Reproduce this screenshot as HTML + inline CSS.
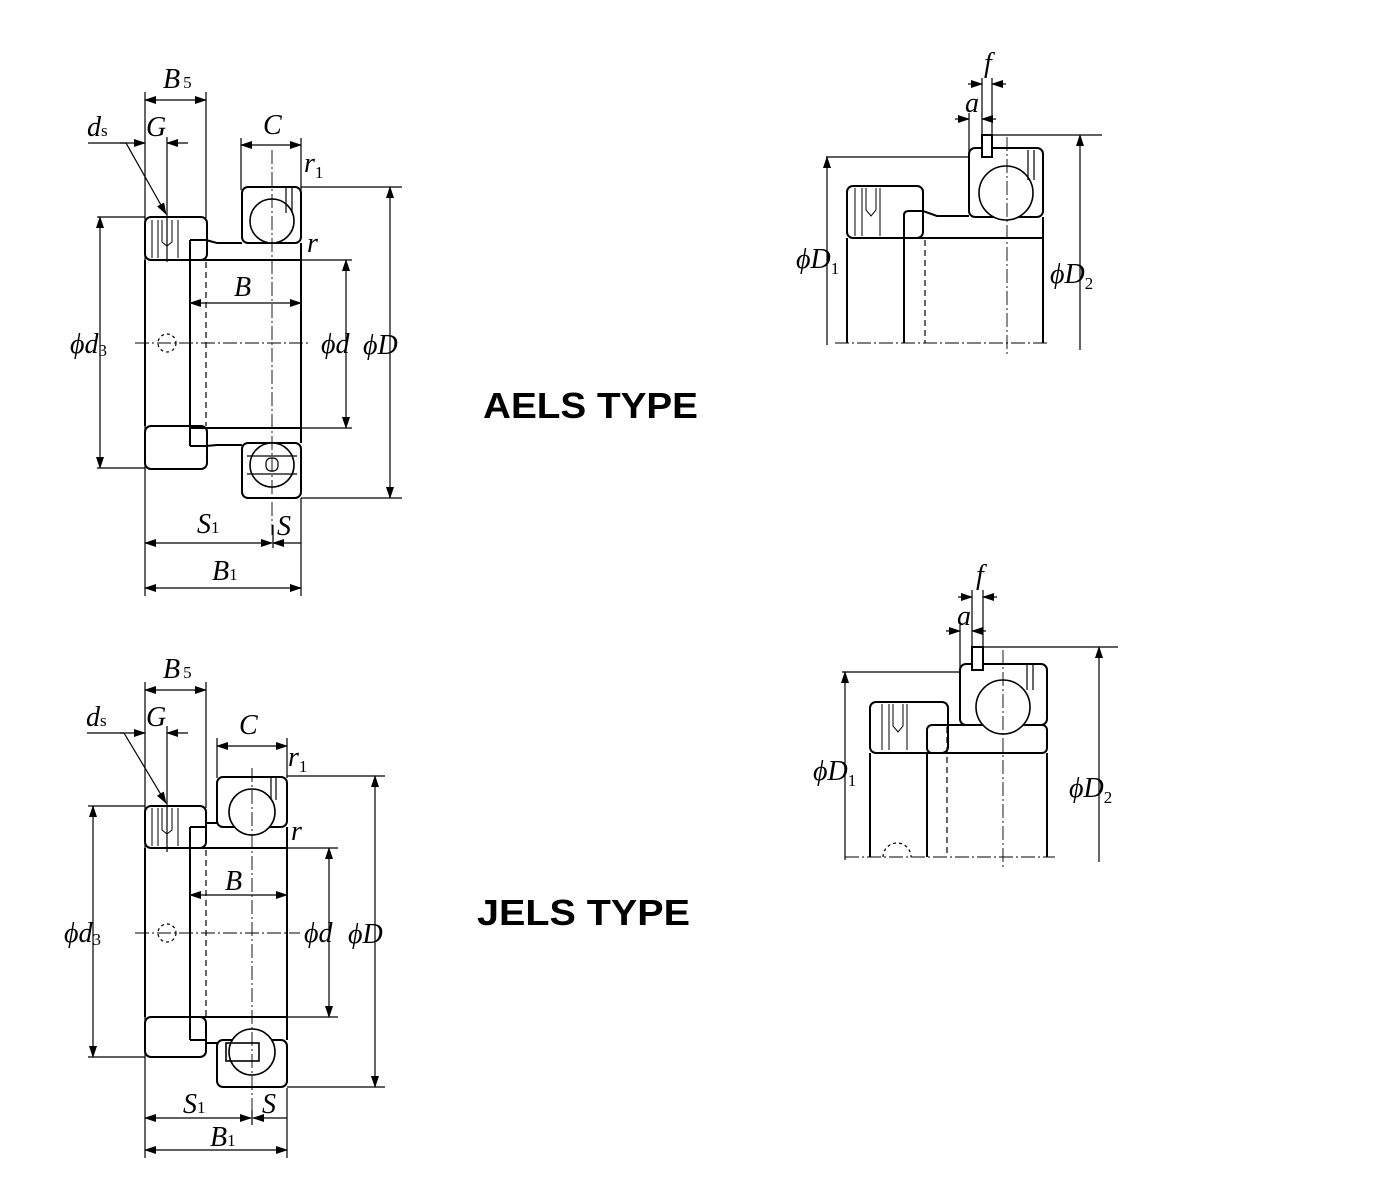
<!DOCTYPE html>
<html><head><meta charset="utf-8"><style>
html,body{margin:0;padding:0;background:#fff;}
svg{display:block;}
.t{font-family:"Liberation Serif",serif;font-style:italic;font-size:28px;fill:#000;}
.s{font-family:"Liberation Serif",serif;font-size:17px;fill:#000;font-style:normal;}
.h{font-family:"Liberation Sans",sans-serif;font-weight:bold;font-size:36px;fill:#000;}
</style></head><body>
<svg width="1400" height="1200" viewBox="0 0 1400 1200" xmlns="http://www.w3.org/2000/svg">
<defs>
<marker id="a" markerWidth="12" markerHeight="8" refX="11" refY="4" orient="auto-start-reverse" markerUnits="userSpaceOnUse">
<path d="M0,0 L12,4 L0,8 z" fill="#000"/></marker>
</defs>
<g fill="none" stroke="#000" stroke-width="1.2">
<!-- ============ TOP LEFT (AELS) ============ -->
<path d="M145,92V596 M206,92V218 M167,137V262 M241,138V190 M301,138V190 M301,498V596 M273,525V548"/>
<path d="M301,187H402 M301,498H402 M301,260H352 M301,428H352 M97,217H145 M97,468H145"/>
<line x1="145" y1="100" x2="206" y2="100" marker-start="url(#a)" marker-end="url(#a)"/>
<line x1="241" y1="145" x2="301" y2="145" marker-start="url(#a)" marker-end="url(#a)"/>
<line x1="120" y1="143" x2="145" y2="143" marker-end="url(#a)"/>
<line x1="188" y1="143" x2="167" y2="143" marker-end="url(#a)"/>
<path d="M88,143H126"/><line x1="126" y1="143" x2="166" y2="214" marker-end="url(#a)"/>
<line x1="390" y1="187" x2="390" y2="498" marker-start="url(#a)" marker-end="url(#a)"/>
<line x1="346" y1="260" x2="346" y2="428" marker-start="url(#a)" marker-end="url(#a)"/>
<line x1="100" y1="217" x2="100" y2="468" marker-start="url(#a)" marker-end="url(#a)"/>
<line x1="190" y1="303" x2="301" y2="303" marker-start="url(#a)" marker-end="url(#a)"/>
<line x1="145" y1="543" x2="272" y2="543" marker-start="url(#a)" marker-end="url(#a)"/>
<line x1="301" y1="543" x2="273" y2="543" marker-end="url(#a)"/>
<line x1="145" y1="588" x2="301" y2="588" marker-start="url(#a)" marker-end="url(#a)"/>
<g stroke-width="2">
<rect x="145" y="217" width="62" height="43" rx="6"/>
<rect x="145" y="426" width="62" height="43" rx="6"/>
<path d="M145,260V426"/>
<rect x="242" y="187" width="59" height="56" rx="6"/>
<rect x="242" y="443" width="59" height="55" rx="6"/>
<path d="M301,243V443 M190,240V446 M190,240H206L217,243H242 M190,260H301 M190,428H301 M190,446H206L217,445H242"/>
</g>
<circle cx="272" cy="221" r="22" stroke-width="1.6" fill="#fff"/>
<circle cx="272" cy="465" r="22" stroke-width="1.6" fill="#fff"/>
<path d="M247,456H297 M247,474H297"/>
<rect x="266" y="458" width="12" height="13" rx="5"/>
<path d="M152,220V258 M158,220V258 M178,220V258 M162,220V242 L167,246 L172,242V220" stroke-width="1"/>
<path d="M286,188V213 M292,188V213"/>
<path d="M206,262V426" stroke-dasharray="6,4"/>
<circle cx="167" cy="343" r="9" stroke-dasharray="3,3"/>
<path d="M272,150V535 M135,343H310" stroke-dasharray="14,3,2,3" stroke-width="0.9"/>

<!-- ============ BOTTOM LEFT (JELS) ============ -->
<path d="M145,682V1158 M206,682V808 M167,726V852 M217,738V778 M287,738V778 M287,1088V1158 M252,1110V1125"/>
<path d="M287,776H385 M287,1087H385 M287,848H338 M287,1017H338 M88,806H145 M88,1057H145"/>
<line x1="145" y1="690" x2="206" y2="690" marker-start="url(#a)" marker-end="url(#a)"/>
<line x1="217" y1="746" x2="287" y2="746" marker-start="url(#a)" marker-end="url(#a)"/>
<line x1="120" y1="733" x2="145" y2="733" marker-end="url(#a)"/>
<line x1="188" y1="733" x2="167" y2="733" marker-end="url(#a)"/>
<path d="M87,733H124"/><line x1="124" y1="733" x2="166" y2="803" marker-end="url(#a)"/>
<line x1="375" y1="776" x2="375" y2="1087" marker-start="url(#a)" marker-end="url(#a)"/>
<line x1="329" y1="848" x2="329" y2="1017" marker-start="url(#a)" marker-end="url(#a)"/>
<line x1="93" y1="806" x2="93" y2="1057" marker-start="url(#a)" marker-end="url(#a)"/>
<line x1="190" y1="895" x2="287" y2="895" marker-start="url(#a)" marker-end="url(#a)"/>
<line x1="145" y1="1118" x2="251" y2="1118" marker-start="url(#a)" marker-end="url(#a)"/>
<line x1="287" y1="1118" x2="253" y2="1118" marker-end="url(#a)"/>
<line x1="145" y1="1150" x2="287" y2="1150" marker-start="url(#a)" marker-end="url(#a)"/>
<g stroke-width="2">
<rect x="145" y="806" width="61" height="42" rx="6"/>
<rect x="145" y="1017" width="61" height="40" rx="6"/>
<path d="M145,848V1017"/>
<rect x="217" y="777" width="70" height="50" rx="6"/>
<rect x="217" y="1040" width="70" height="47" rx="6"/>
<path d="M190,827V1040 M190,827H206V823H217 M190,848H287 M190,1017H287 M287,827V1040 M190,1040H206V1043H217"/>
</g>
<circle cx="252" cy="812" r="23" stroke-width="1.6" fill="#fff"/>
<circle cx="252" cy="1052" r="23" stroke-width="1.6" fill="#fff"/>
<rect x="226" y="1043" width="33" height="18" stroke-width="1.6"/>
<path d="M152,808V846 M158,808V846 M178,808V846 M162,808V830 L167,834 L172,830V808" stroke-width="1"/>
<path d="M271,778V800 M276,778V800"/>
<path d="M206,850V1017" stroke-dasharray="6,4"/>
<circle cx="167" cy="933" r="9" stroke-dasharray="3,3"/>
<path d="M252,768V1120 M135,933H300" stroke-dasharray="14,3,2,3" stroke-width="0.9"/>

<!-- ============ TOP RIGHT ============ -->
<path d="M969,113V158 M982,78V137 M992,78V137 M826,157H969 M992,135H1102"/>
<line x1="955" y1="119" x2="969" y2="119" marker-end="url(#a)"/>
<line x1="996" y1="119" x2="982" y2="119" marker-end="url(#a)"/>
<line x1="968" y1="84" x2="982" y2="84" marker-end="url(#a)"/>
<line x1="1006" y1="84" x2="992" y2="84" marker-end="url(#a)"/>
<line x1="827" y1="345" x2="827" y2="157" marker-end="url(#a)"/>
<line x1="1080" y1="350" x2="1080" y2="135" marker-end="url(#a)"/>
<g stroke-width="2">
<rect x="847" y="186" width="76" height="52" rx="6"/>
<rect x="969" y="148" width="74" height="69" rx="6"/>
<path d="M904,238V343 M847,238V343 M1043,217V343 M904,238V215Q904,211 909,211H923L937,216H969 M904,238H1043"/>
<rect x="982" y="135" width="10" height="22" fill="#fff"/>
</g>
<circle cx="1006" cy="193" r="27" stroke-width="1.6" fill="#fff"/>
<path d="M855,188V236 M862,188V236 M880,188V236 M866,188V210 L871,216 L876,210V188" stroke-width="1"/>
<path d="M1028,150V180 M1034,150V180"/>
<path d="M925,240V343" stroke-dasharray="6,4"/>
<path d="M1007,137V355 M835,343H1050" stroke-dasharray="14,3,2,3" stroke-width="0.9"/>

<!-- ============ BOTTOM RIGHT ============ -->
<path d="M960,625V672 M972,590V648 M983,590V648 M842,672H960 M983,647H1118"/>
<line x1="946" y1="631" x2="960" y2="631" marker-end="url(#a)"/>
<line x1="986" y1="631" x2="972" y2="631" marker-end="url(#a)"/>
<line x1="958" y1="597" x2="972" y2="597" marker-end="url(#a)"/>
<line x1="997" y1="597" x2="983" y2="597" marker-end="url(#a)"/>
<line x1="845" y1="860" x2="845" y2="672" marker-end="url(#a)"/>
<line x1="1099" y1="862" x2="1099" y2="647" marker-end="url(#a)"/>
<g stroke-width="2">
<rect x="870" y="702" width="78" height="51" rx="6"/>
<rect x="960" y="664" width="87" height="61" rx="6"/>
<rect x="927" y="725" width="120" height="28" rx="5"/>
<path d="M870,753V857 M927,753V857 M1047,753V857"/>
<rect x="972" y="647" width="11" height="23" fill="#fff"/>
</g>
<circle cx="1003" cy="707" r="27" stroke-width="1.6" fill="#fff"/>
<path d="M882,704V750 M889,704V750 M907,704V750 M893,704V726 L898,732 L903,726V704" stroke-width="1"/>
<path d="M1027,665V690 M1033,665V690"/>
<path d="M947,727V857" stroke-dasharray="6,4"/>
<path d="M883,857A14,14 0 0 1 911,857" stroke-dasharray="3,3"/>
<path d="M1003,650V870 M845,857H1055" stroke-dasharray="14,3,2,3" stroke-width="0.9"/>
</g>

<!-- ============ LABELS ============ -->
<text class="t" x="163" y="88">B<tspan class="s" dx="3">5</tspan></text>
<text class="t" x="87" y="136">d<tspan class="s" font-size="13">s</tspan></text>
<text class="t" x="146" y="136">G</text>
<text class="t" x="263" y="134">C</text>
<text class="t" x="304" y="172">r<tspan class="s" dy="6">1</tspan></text>
<text class="t" x="307" y="252">r</text>
<text class="t" x="234" y="296">B</text>
<text class="t" x="70" y="353">ϕd<tspan class="s" dy="3">3</tspan></text>
<text class="t" x="321" y="353">ϕd</text>
<text class="t" x="363" y="354">ϕD</text>
<text class="t" x="197" y="533">S<tspan class="s">1</tspan></text>
<text class="t" x="277" y="535">S</text>
<text class="t" x="212" y="580">B<tspan class="s">1</tspan></text>
<text class="h" x="483" y="418" textLength="215" lengthAdjust="spacingAndGlyphs">AELS TYPE</text>

<text class="t" x="163" y="678">B<tspan class="s" dx="3">5</tspan></text>
<text class="t" x="86" y="726">d<tspan class="s" font-size="13">s</tspan></text>
<text class="t" x="146" y="726">G</text>
<text class="t" x="239" y="734">C</text>
<text class="t" x="288" y="766">r<tspan class="s" dy="6">1</tspan></text>
<text class="t" x="291" y="840">r</text>
<text class="t" x="225" y="890">B</text>
<text class="t" x="64" y="942">ϕd<tspan class="s" dy="3">3</tspan></text>
<text class="t" x="304" y="942">ϕd</text>
<text class="t" x="348" y="943">ϕD</text>
<text class="t" x="183" y="1113">S<tspan class="s">1</tspan></text>
<text class="t" x="262" y="1113">S</text>
<text class="t" x="210" y="1146">B<tspan class="s">1</tspan></text>
<text class="h" x="477" y="925" textLength="213" lengthAdjust="spacingAndGlyphs">JELS TYPE</text>

<text class="t" x="984" y="72">f</text>
<text class="t" x="965" y="112">a</text>
<text class="t" x="796" y="268">ϕD<tspan class="s" dy="6">1</tspan></text>
<text class="t" x="1050" y="283">ϕD<tspan class="s" dy="6">2</tspan></text>

<text class="t" x="976" y="584">f</text>
<text class="t" x="957" y="625">a</text>
<text class="t" x="813" y="780">ϕD<tspan class="s" dy="6">1</tspan></text>
<text class="t" x="1069" y="797">ϕD<tspan class="s" dy="6">2</tspan></text>
</svg>
</body></html>
